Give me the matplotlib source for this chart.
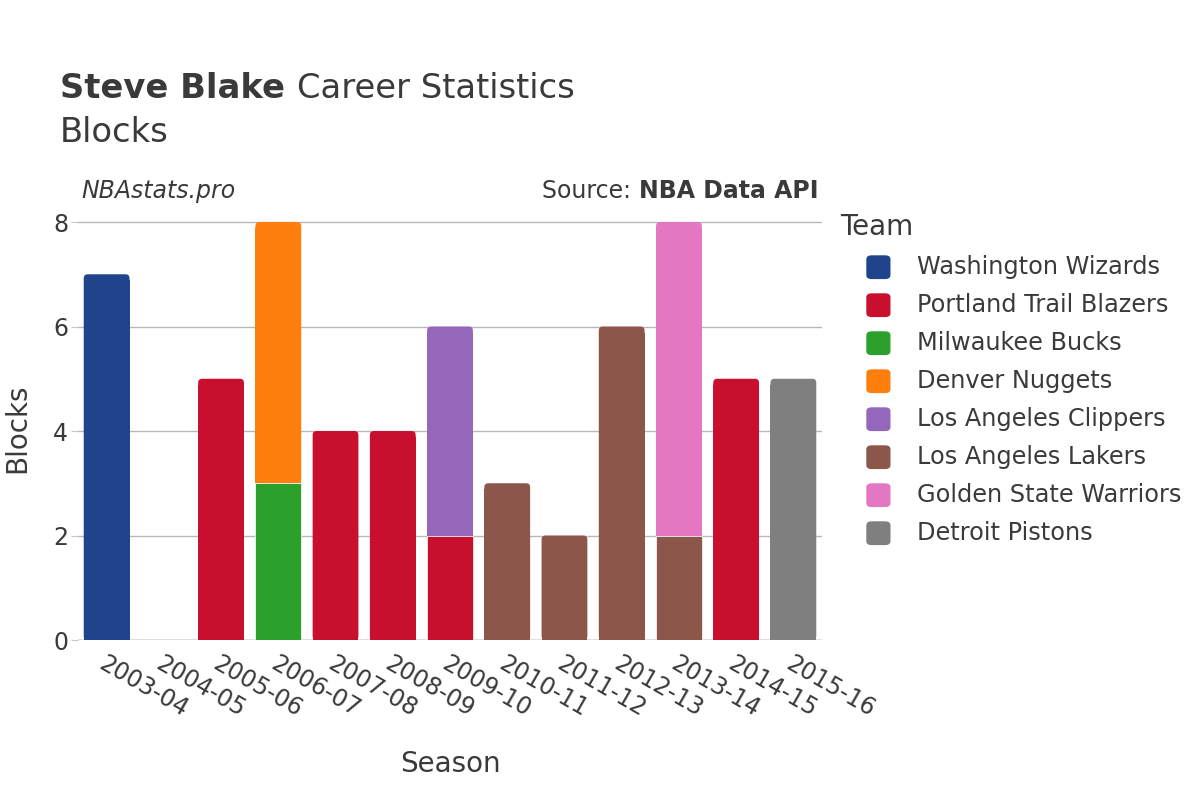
import matplotlib

matplotlib.use("Agg")
import matplotlib.pyplot as plt
import numpy as np
from matplotlib.patches import FancyBboxPatch

seasons = ["2003-04", "2004-05", "2005-06", "2006-07", "2007-08", "2008-09",
           "2009-10", "2010-11", "2011-12", "2012-13", "2013-14", "2014-15", "2015-16"]
teams = ["Washington Wizards", "Portland Trail Blazers", "Milwaukee Bucks",
         "Denver Nuggets", "Los Angeles Clippers", "Los Angeles Lakers",
         "Golden State Warriors", "Detroit Pistons"]
colors = ["#1f448b", "#c8102e", "#2ca02c", "#ff7f0e", "#9467bd", "#8c564b",
          "#e377c2", "#7f7f7f"]

# blocks per team per season (rows follow `teams`)
blocks = {
    "Washington Wizards":    [7, 0, 0, 0, 0, 0, 0, 0, 0, 0, 0, 0, 0],
    "Portland Trail Blazers": [0, 0, 5, 0, 4, 4, 2, 0, 0, 0, 0, 5, 0],
    "Milwaukee Bucks":       [0, 0, 0, 3, 0, 0, 0, 0, 0, 0, 0, 0, 0],
    "Denver Nuggets":        [0, 0, 0, 5, 0, 0, 0, 0, 0, 0, 0, 0, 0],
    "Los Angeles Clippers":  [0, 0, 0, 0, 0, 0, 4, 0, 0, 0, 0, 0, 0],
    "Los Angeles Lakers":    [0, 0, 0, 0, 0, 0, 0, 3, 2, 6, 2, 0, 0],
    "Golden State Warriors": [0, 0, 0, 0, 0, 0, 0, 0, 0, 0, 6, 0, 0],
    "Detroit Pistons":       [0, 0, 0, 0, 0, 0, 0, 0, 0, 0, 0, 0, 5],
}

TXT = "#3a3a3a"
WIDTH = 0.8
plt.rcParams["font.family"] = ["DejaVu Sans"]

fig = plt.figure(figsize=(12, 8), dpi=100)
ax = fig.add_axes([0.065, 0.2, 0.62, 0.529])
ax.set_xlim(-0.5, len(seasons) - 0.5)
ax.set_ylim(0, 8.1)

# data units per pixel, used to get round (not elliptic) corners
xu = 13 / (0.62 * 1200)
yu = 8.1 / (0.529 * 800)
rad = 4 * xu
aspect = yu / xu

x = np.arange(len(seasons))
totals = sum(np.array(v, dtype=float) for v in blocks.values())
bottom = np.zeros(len(seasons))
for team, col in zip(teams, colors):
    vals = np.array(blocks[team], dtype=float)
    for i in range(len(seasons)):
        if vals[i] == 0:
            continue
        top = bottom[i] + vals[i] >= totals[i]
        if not top:
            ax.bar(x[i], vals[i], bottom=bottom[i], width=WIDTH, color=col,
                   edgecolor="white", linewidth=0.5, zorder=3)
        else:
            # square lower part + rounded full box for the top of the stack
            ax.bar(x[i], vals[i] - 6 * yu, bottom=bottom[i], width=WIDTH,
                   color=col, edgecolor="none", zorder=2.8)
            ax.add_patch(FancyBboxPatch(
                (x[i] - WIDTH / 2, bottom[i]), WIDTH, vals[i],
                boxstyle=f"round,pad=0,rounding_size={rad}",
                mutation_aspect=aspect, facecolor=col, edgecolor="none",
                zorder=2.8))
    bottom += vals

ax.set_yticks([0, 2, 4, 6, 8])
ax.grid(axis="y", color="#b8b8b8", linewidth=1, zorder=0)
ax.axhline(0, color="#e6e6e6", linewidth=2, zorder=1)
for s in ax.spines.values():
    s.set_visible(False)
ax.tick_params(axis="y", length=5, color="#c8c8c8", labelsize=17,
               labelcolor=TXT, pad=2)
ax.tick_params(axis="x", length=0, labelsize=17, labelcolor=TXT, pad=8)
ax.set_xticks(x)
ax.set_xticklabels(seasons, rotation=-30, ha="left", va="top",
                   rotation_mode="anchor")
ax.set_xlabel("Season", fontsize=20, color=TXT, labelpad=21)
ax.set_ylabel("Blocks", fontsize=20, color=TXT, labelpad=16)

# titles
fig.canvas.draw()
r = fig.canvas.get_renderer()
t1 = fig.text(0.05, 0.889, "Steve Blake ", fontsize=24.3, fontweight="bold",
              color=TXT, va="center")
w = t1.get_window_extent(r).width / 1200
fig.text(0.05 + w, 0.889, "Career Statistics", fontsize=24.3, color=TXT,
         va="center")
fig.text(0.05, 0.834, "Blocks", fontsize=24.3, color=TXT, va="center")
fig.text(0.068, 0.761, "NBAstats.pro", fontsize=17, style="italic", color=TXT,
         va="center")
t2 = fig.text(0.682, 0.761, "NBA Data API", fontsize=17, fontweight="bold",
              color=TXT, va="center", ha="right")
w2 = t2.get_window_extent(r).width / 1200
fig.text(0.682 - w2, 0.761, "Source: ", fontsize=17, color=TXT, va="center",
         ha="right")

# legend
fig.text(0.70, 0.716, "Team", fontsize=20, color=TXT, va="center")
for i, (team, col) in enumerate(zip(teams, colors)):
    y = 0.666 - i * 0.0475
    fig.patches.append(FancyBboxPatch((0.7225, y - 0.014), 0.019, 0.028,
                                      boxstyle="round,pad=0,rounding_size=0.004",
                                      transform=fig.transFigure, color=col))
    fig.text(0.764, y, team, fontsize=17.3, color=TXT, va="center")

fig.savefig("out.png", dpi=100)
